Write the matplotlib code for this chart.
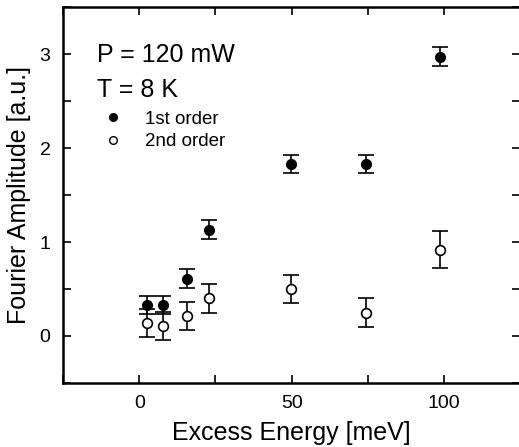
import matplotlib.pyplot as plt
from matplotlib.lines import Line2D
from matplotlib.ticker import MultipleLocator

plt.rcParams['font.family'] = ['Liberation Sans', 'DejaVu Sans']

# excess energy [meV]
energy = [2.6, 7.8, 15.7, 22.9, 49.7, 74.5, 98.7]
# 1st order Fourier amplitude and error
first = [0.33, 0.33, 0.61, 1.13, 1.83, 1.83, 2.97]
first_err = [0.1, 0.1, 0.1, 0.1, 0.1, 0.1, 0.1]
# 2nd order Fourier amplitude and error
second = [0.14, 0.11, 0.21, 0.40, 0.50, 0.25, 0.92]
second_err = [0.15, 0.15, 0.15, 0.15, 0.15, 0.15, 0.2]

fig = plt.figure(figsize=(5.19, 4.47), dpi=100)
ax = fig.add_axes([0.1214, 0.1432, 0.881, 0.841])

ax.errorbar(energy, first, yerr=first_err, fmt='o', color='black', ms=7,
            capsize=5.5, elinewidth=1.2, capthick=1.2)
ax.errorbar(energy, second, yerr=second_err, fmt='o', color='black', mfc='white',
            ms=7, mew=1.2, capsize=5.5, elinewidth=1.2, capthick=1.2)

ax.set_xlim(-25, 125)
ax.set_ylim(-0.5, 3.5)
ax.xaxis.set_major_locator(MultipleLocator(50))
ax.xaxis.set_minor_locator(MultipleLocator(25))
ax.yaxis.set_major_locator(MultipleLocator(1))
ax.yaxis.set_minor_locator(MultipleLocator(0.5))
ax.tick_params(which='both', direction='in', top=True, right=True, length=6, width=1.2,
               labelsize=14, pad=9)
for s in ax.spines.values():
    s.set_linewidth(1.8)

ax.set_xlabel('Excess Energy [meV]', fontsize=18, labelpad=6)
ax.set_ylabel('Fourier Amplitude [a.u.]', fontsize=18, labelpad=6)

ax.text(0.075, 0.872, 'P = 120 mW', transform=ax.transAxes, fontsize=18, va='center')
ax.text(0.075, 0.78, 'T = 8 K', transform=ax.transAxes, fontsize=18, va='center')

handles = [Line2D([], [], ls='none', marker='o', color='black', ms=5.5),
           Line2D([], [], ls='none', marker='o', color='black', mfc='white', ms=5.5, mew=1)]
ax.legend(handles, ['1st order', '2nd order'], loc='upper left',
          bbox_to_anchor=(0.073, 0.745), frameon=False, fontsize=13.5,
          handlelength=1.0, handletextpad=1.2, labelspacing=0.3, borderaxespad=0)

plt.savefig('out.png', dpi=100)
